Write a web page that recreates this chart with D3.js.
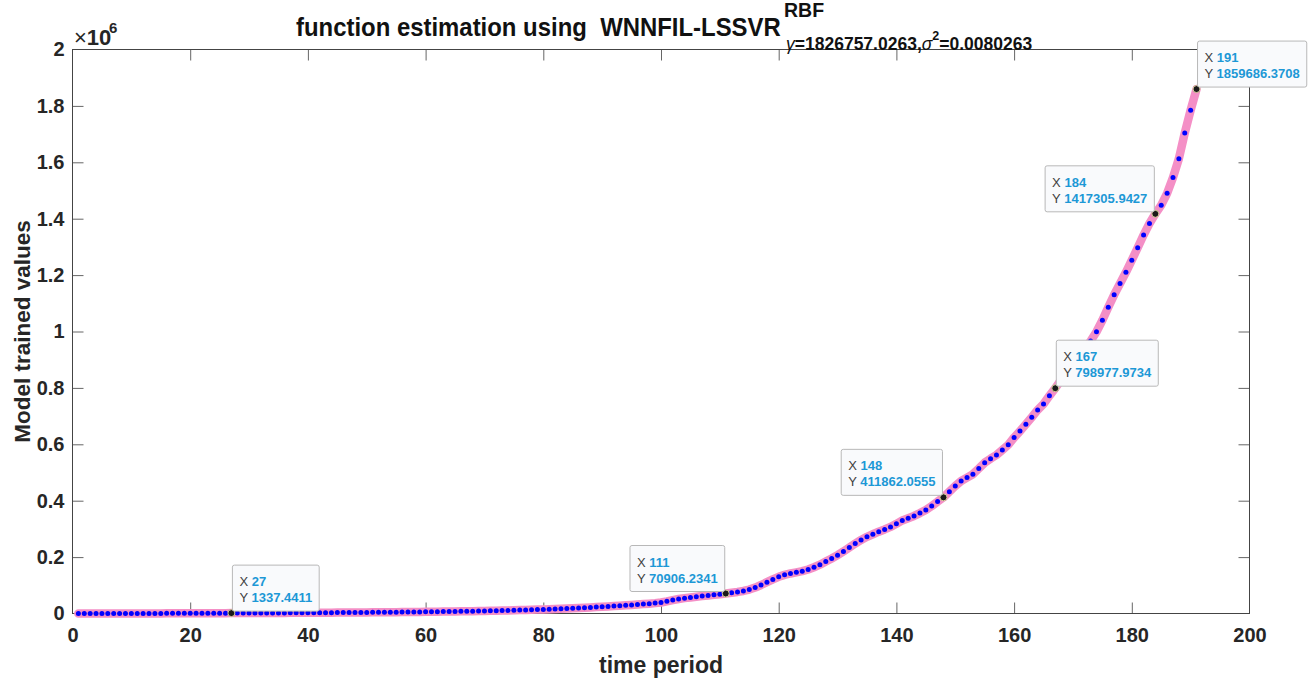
<!DOCTYPE html>
<html>
<head>
<meta charset="utf-8">
<script src="https://cdn.jsdelivr.net/npm/d3@7"></script>
<style>
    body { margin: 0; background: #fff; }
    svg { font-family: 'Liberation Sans', Arial, Helvetica, sans-serif; }
</style>
</head>
<body>
<div id="chart"></div>
<script>

// model trained values for time period 1..191
const trainedValues = [
    5, 10, 20, 32, 48, 66, 88, 120, 150, 190,
    230, 280, 330, 385, 440, 500, 560, 625, 690, 760,
    830, 905, 980, 1060, 1150, 1245, 1337.4411, 1430, 1520, 1610,
    1700, 1790, 1880, 1970, 2060, 2150, 2250, 2350, 2450, 2560,
    2670, 2780, 2900, 3020, 3150, 3280, 3420, 3560, 3710, 3870,
    4030, 4200, 4380, 4570, 4770, 4980, 5200, 5430, 5670, 5920,
    6180, 6450, 6740, 7040, 7350, 7680, 8030, 8390, 8770, 9170,
    9590, 10030, 10500, 11000, 11520, 12070, 12650, 13260, 13900, 14580,
    15300, 16050, 16850, 17700, 18600, 19550, 20550, 21600, 22700, 23850,
    25050, 26300, 27600, 28950, 30350, 31800, 33300, 34900, 36800, 39200,
    43000, 47500, 51500, 54500, 57000, 59500, 61800, 64000, 66300, 68600,
    70906.2341, 73500, 76500, 80000, 85000, 92000, 101000, 111000, 121000, 130000,
    137000, 142000, 146000, 150000, 156000, 164000, 173000, 184000, 195000, 207000,
    220000, 234000, 248000, 261000, 272000, 281000, 290000, 298000, 307000, 318000,
    330000, 338000, 346000, 356000, 367000, 381000, 397000, 411862.0555, 432000, 452000,
    470000, 482000, 494000, 514000, 535000, 549000, 562000, 580000, 598000, 624000,
    647000, 671000, 696000, 722000, 743000, 772000, 798977.9734, 829000, 858000, 887000,
    914000, 940000, 966000, 999000, 1040000, 1086000, 1130000, 1170000, 1210000, 1253000,
    1297000, 1342000, 1383000, 1417305.9427, 1448000, 1490000, 1546000, 1613000, 1704000, 1785000,
    1859686.3708
];

// data tips shown on the chart
const tipPeriods = [27, 111, 148, 167, 184, 191];
const tipSides = ['right', 'left', 'left', 'right', 'left', 'right'];

const xTicks = [0, 20, 40, 60, 80, 100, 120, 140, 160, 180, 200];
const yTicks = [0, 200000, 400000, 600000, 800000, 1000000, 1200000, 1400000, 1600000, 1800000, 2000000];

const width = 1314;
const height = 685;
const plotLeft = 72.5, plotRight = 1249.5, plotTop = 49.5, plotBottom = 613.5;
const tickLen = 11;

const points = trainedValues.map((v, i) => ({ t: i + 1, v: v }));

const x = d3.scaleLinear().domain([0, 200]).range([plotLeft, plotRight]);
const y = d3.scaleLinear().domain([0, 2000000]).range([plotBottom, plotTop]);

const svg = d3.select('#chart')
    .append('svg')
    .attr('width', width)
    .attr('height', height);

// axes
const axisColor = '#444';

const xAxis = svg.append('g')
    .attr('transform', `translate(0, ${plotBottom})`)
    .call(d3.axisBottom(x).tickValues(xTicks).tickSize(-tickLen).tickPadding(14).tickFormat(d3.format('d')));

const yAxis = svg.append('g')
    .attr('transform', `translate(${plotLeft}, 0)`)
    .call(d3.axisLeft(y).tickValues(yTicks).tickSize(-tickLen).tickPadding(8)
        .tickFormat(d => String(+(d / 1e6).toFixed(1))));

const xTop = svg.append('g')
    .attr('transform', `translate(0, ${plotTop})`)
    .call(d3.axisTop(x).tickValues(xTicks).tickSize(-tickLen).tickFormat(''));

const yRight = svg.append('g')
    .attr('transform', `translate(${plotRight}, 0)`)
    .call(d3.axisRight(y).tickValues(yTicks).tickSize(-tickLen).tickFormat(''));

[xAxis, yAxis, xTop, yRight].forEach(g => {
    g.select('.domain').remove();
    g.selectAll('.tick line').attr('stroke', '#666');
    g.selectAll('.tick text')
        .attr('fill', '#262626')
        .style('font-size', '20px')
        .style('font-weight', 'bold')
        .style('font-family', "'Liberation Sans', Arial, sans-serif");
});
// first/last ticks sit on the box edge
[xAxis, xTop].forEach(g => g.selectAll('.tick line').filter(d => d === 0 || d === 200).remove());
[yAxis, yRight].forEach(g => g.selectAll('.tick line').filter(d => d === 0 || d === 2000000).remove());

svg.append('rect')
    .attr('x', plotLeft)
    .attr('y', plotTop)
    .attr('width', plotRight - plotLeft)
    .attr('height', plotBottom - plotTop)
    .attr('fill', 'none')
    .attr('stroke', axisColor)
    .attr('stroke-width', 1);

// exponent label
const expo = svg.append('text')
    .attr('x', 74)
    .attr('y', 45)
    .attr('fill', '#262626')
    .style('font-size', '22px');
expo.append('tspan').text('\u00d7');
expo.append('tspan').style('font-weight', 'bold').text('10');
svg.append('text')
    .attr('x', 109)
    .attr('y', 33)
    .attr('fill', '#262626')
    .style('font-size', '15px')
    .style('font-weight', 'bold')
    .text('6');

// curve
const line = d3.line()
    .x(d => x(d.t))
    .y(d => y(d.v));

svg.append('path')
    .datum(points)
    .attr('d', line)
    .attr('fill', 'none')
    .attr('stroke', '#f48fc6')
    .attr('stroke-width', 8.5)
    .attr('stroke-linejoin', 'round')
    .attr('stroke-linecap', 'round');

svg.append('g')
    .selectAll('circle')
    .data(points)
    .join('circle')
    .attr('cx', d => x(d.t))
    .attr('cy', d => y(d.v))
    .attr('r', 2.5)
    .attr('fill', '#0000ff');

// data tips
const tipData = tipPeriods.map((p, i) => ({ t: p, v: trainedValues[p - 1], side: tipSides[i] }));

svg.append('g')
    .selectAll('circle')
    .data(tipData)
    .join('circle')
    .attr('cx', d => x(d.t))
    .attr('cy', d => y(d.v))
    .attr('r', 3.5)
    .attr('fill', '#1a1a1a')
    .attr('stroke', '#d6cf9a')
    .attr('stroke-width', 1);

const tips = svg.append('g')
    .selectAll('.tip')
    .data(tipData)
    .join('g')
    .attr('class', 'tip');

tips.each(function (d) {
    const g = d3.select(this);
    const rect = g.append('rect');
    const rows = [['X', String(d.t)], ['Y', d3.format('.4f')(d.v)]];
    const texts = rows.map((r, i) => {
        const t = g.append('text')
            .attr('y', 21 + i * 16)
            .style('font-size', '13px');
        t.append('tspan').attr('fill', '#404040').text(r[0] + ' ');
        t.append('tspan').attr('fill', '#1d98d6').style('font-weight', 'bold').text(r[1]);
        return t;
    });
    const w = d3.max(texts, t => t.node().getComputedTextLength()) + 14;
    const h = 46;
    const px = x(d.t), py = y(d.v);
    const bx = d.side === 'right' ? px + 1 : px - 1 - w;
    const by = py - 2 - h;
    g.attr('transform', `translate(${bx}, ${by})`);
    texts.forEach(t => t.attr('x', 7));
    rect.attr('width', w)
        .attr('height', h)
        .attr('rx', 2)
        .attr('fill', '#f9fafc')
        .attr('stroke', '#b8b8b8')
        .attr('stroke-width', 1);
});

// axis labels
svg.append('text')
    .attr('x', (plotLeft + plotRight) / 2)
    .attr('y', 673)
    .attr('text-anchor', 'middle')
    .attr('fill', '#262626')
    .style('font-size', '23px')
    .style('font-weight', 'bold')
    .text('time period');

svg.append('text')
    .attr('transform', `translate(30, ${(plotTop + plotBottom) / 2}) rotate(-90)`)
    .attr('text-anchor', 'middle')
    .attr('fill', '#262626')
    .style('font-size', '22.5px')
    .style('font-weight', 'bold')
    .text('Model trained values');

// title: main part is drawn condensed, like the original
const titleMain = svg.append('text')
    .attr('fill', '#111')
    .style('white-space', 'pre')
    .style('font-size', '26px')
    .style('font-weight', 'bold')
    .text('function estimation using  WNNFIL-LSSVR');
const titleW = 485;
const sx = titleW / titleMain.node().getComputedTextLength();
titleMain.attr('transform', `translate(296, 36) scale(${sx}, 1)`);

svg.append('text')
    .attr('x', 784)
    .attr('y', 17)
    .attr('fill', '#111')
    .style('font-size', '19.5px')
    .style('font-weight', 'bold')
    .text('RBF');

const sub1 = svg.append('text')
    .attr('x', 786)
    .attr('y', 50)
    .attr('fill', '#111')
    .style('font-size', '17.5px')
    .style('font-weight', 'bold');
sub1.append('tspan').style('font-style', 'italic').style('font-weight', 'normal').text('\u03b3');
sub1.append('tspan').text('=1826757.0263,');
sub1.append('tspan').style('font-style', 'italic').style('font-weight', 'normal').text('\u03c3');
sub1.append('tspan').attr('dy', -10).style('font-size', '12.5px').text('2');
sub1.append('tspan').attr('dy', 10).text('=0.0080263');

</script>
</body>
</html>
